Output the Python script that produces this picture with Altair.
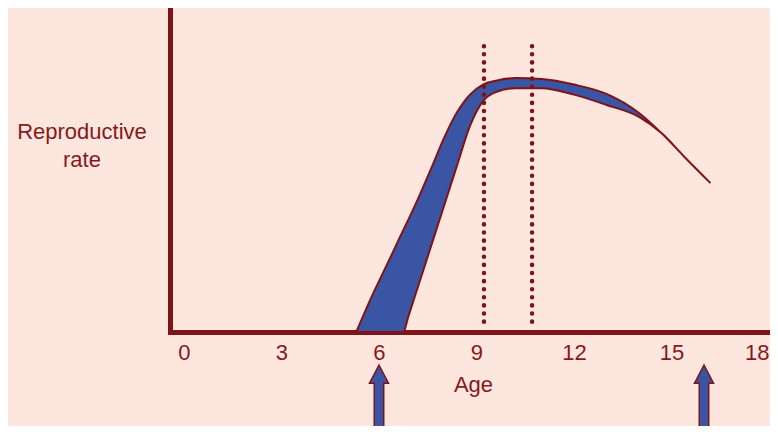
import altair as alt
import pandas as pd

# --- data ---
ages = [5.3, 5.8, 6.3, 6.75, 6.9, 7.2, 7.6, 8.0, 8.4, 8.8, 9.2, 9.6, 10.2, 11, 12, 13, 14, 14.7, 15.4, 16.2]
early_rate = [0, 1.15, 2.2, 3.16, 3.47, 4.12, 5.05, 6.0, 6.8, 7.35, 7.66, 7.78, 7.86, 7.83, 7.66, 7.37, 6.78, 6.15, 5.42, 4.61]
late_rate = [0, 0, 0, 0, 0.47, 1.40, 2.65, 3.9, 5.15, 6.38, 7.15, 7.43, 7.55, 7.55, 7.35, 7.03, 6.66, 6.15, 5.42, 4.61]
window_ages = [9.23, 10.71]
window_top = [8.85, 8.85]
window_bottom = [0.2, 0.2]
arrow_ages = [6, 16]
arrow_level = [-1.32, -1.32]
x_ticks = [0, 3, 6, 9, 12, 15, 18]

BG = "#FCE6DD"
RED = "#7E1418"
TXT = "#86191D"
BLUE = "#3A55A4"
FONT = "Liberation Sans"

band = pd.DataFrame({"age": ages, "early": early_rate, "late": late_rate})
win = pd.DataFrame({"age": window_ages, "top": window_top, "bottom": window_bottom})
arr = pd.DataFrame({"age": arrow_ages, "lvl": arrow_level})

xscale = alt.Scale(domain=[-0.43, 18], nice=False, zero=False)
yscale = alt.Scale(domain=[0, 10], nice=False, zero=False)

xaxis = alt.Axis(
    values=x_ticks, ticks=False, tickSize=0, grid=False, domain=True,
    domainColor=RED, domainWidth=5, domainCap="square",
    labelFont=FONT, labelFontSize=22, labelColor=TXT, labelBaseline="alphabetic",
    labelPadding=27, labelOverlap=False, labelFlush=True,
    title="Age", titleFont=FONT, titleFontSize=22, titleFontWeight="normal",
    titleColor=TXT, titleBaseline="alphabetic", titleAlign="center",
    titleX=303, titleY=59,
)
yaxis = alt.Axis(
    labels=False, ticks=False, grid=False, domain=True,
    domainColor=RED, domainWidth=5, domainCap="square",
    title=["Reproductive", "rate"], titleAngle=0, titleAlign="center",
    titleBaseline="top", titleX=-88.5, titleY=112.6, titleLineHeight=28,
    titleFont=FONT, titleFontSize=22, titleFontWeight="normal", titleColor=TXT,
)

area = alt.Chart(band).mark_area(
    fill=BLUE, stroke=RED, strokeWidth=2, interpolate="monotone", fillOpacity=1
).encode(
    x=alt.X("age:Q", scale=xscale, axis=xaxis),
    y=alt.Y("early:Q", scale=yscale, axis=yaxis),
    y2="late:Q",
)

rules = alt.Chart(win).mark_rule(
    color=RED, strokeWidth=4.5, strokeDash=[0.1, 8], strokeCap="round"
).encode(
    x=alt.X("age:Q", scale=xscale),
    y=alt.Y("top:Q", scale=yscale),
    y2="bottom:Q",
)

arrow_path = "M0,-1L1,0.9L0.5,0.9L0.5,7.5L-0.5,7.5L-0.5,0.9L-1,0.9Z"
arrows = alt.Chart(arr).mark_point(
    shape=arrow_path, size=361, filled=True, fill=BLUE, stroke=RED,
    strokeWidth=1.5, opacity=1, fillOpacity=1
).encode(
    x=alt.X("age:Q", scale=xscale),
    y=alt.Y("lvl:Q", scale=yscale),
)

chart = alt.layer(area, rules, arrows).properties(
    width=599, height=323, background=BG,
    autosize=alt.AutoSizeParams(type="none"),
    padding={"left": 162, "top": 1, "right": 1, "bottom": 94},
).configure_view(stroke=None)

chart.save("out.html", embed_options={"renderer": "svg", "actions": False})
